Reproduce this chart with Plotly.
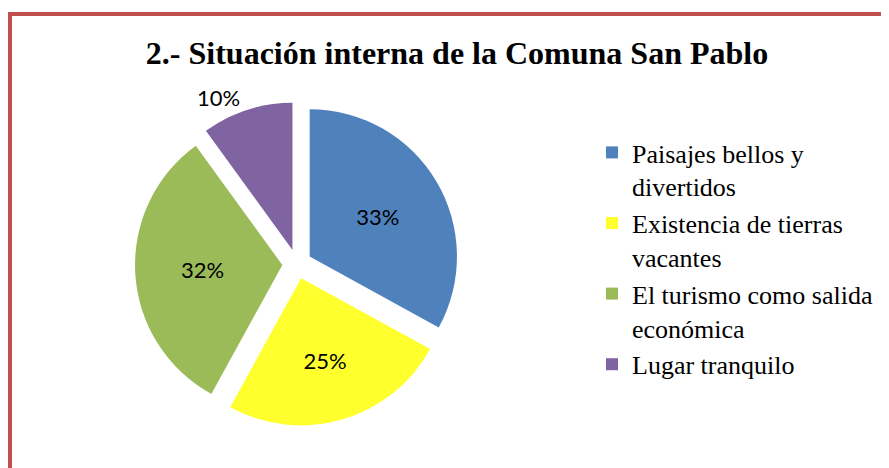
import plotly.graph_objects as go

categories = ["Paisajes bellos y<br>divertidos", "Existencia de tierras<br>vacantes",
              "El turismo como salida<br>económica", "Lugar tranquilo"]
values = [33, 25, 32, 10]
colors = ["#4f81bd", "#ffff2e", "#9bbb59", "#8064a2"]
title_text = "2.- Situación interna de la Comuna San Pablo"

# the page has an 8px body margin; size the figure so it fills the 889x468 window
OFF = 8
W, H = 889 - OFF, 468 - OFF


def px(p):
    return (p - OFF) / W


def py(p):
    return 1 - (p - OFF) / H


fig = go.Figure(go.Pie(
    labels=categories,
    values=values,
    sort=False,
    direction="clockwise",
    rotation=0,
    pull=[0.1, 0.1, 0.1, 0.1],
    marker=dict(colors=colors, line=dict(width=0)),
    textinfo="percent",
    textposition=["inside", "inside", "inside", "outside"],
    insidetextorientation="horizontal",
    textfont=dict(family="Lato, Liberation Sans, sans-serif", size=22, color="black"),
    domain=dict(x=[px(135), px(459)], y=[py(426), py(102)]),
    hoverinfo="label+percent",
))

fig.update_layout(
    width=W, height=H,
    margin=dict(l=0, r=0, t=0, b=0),
    paper_bgcolor="white",
    plot_bgcolor="white",
    title=dict(text="<b>" + title_text + "</b>", x=px(457), xanchor="center",
               y=py(53), yanchor="middle",
               font=dict(family="Liberation Serif, Times New Roman, serif", size=32, color="black")),
    legend=dict(x=px(592), xanchor="left", y=py(129), yanchor="top",
                font=dict(family="Liberation Serif, Times New Roman, serif", size=26, color="black"),
                valign="top", traceorder="normal", itemclick=False),
    shapes=[dict(type="rect", xref="paper", yref="paper",
                 x0=px(10), x1=1.05, y0=-0.05, y1=py(14),
                 line=dict(color="#c0504d", width=4), layer="below")],
)

fig.write_html("out.html")
